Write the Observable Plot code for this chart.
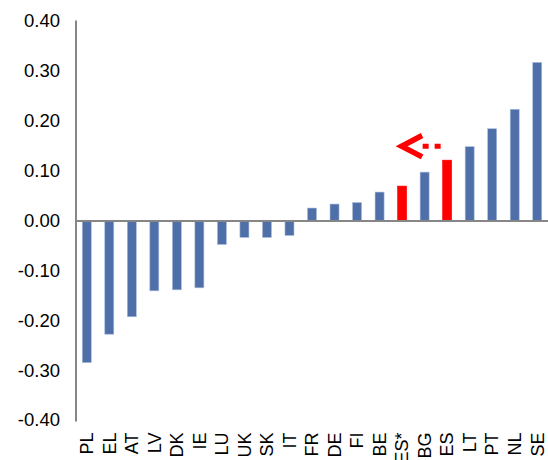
<!DOCTYPE html>
<html><head><meta charset="utf-8">
<script src="https://cdn.jsdelivr.net/npm/d3@7"></script>
<script src="https://cdn.jsdelivr.net/npm/@observablehq/plot@0.6"></script>
<style>html,body{margin:0;padding:0;background:#fff;overflow:hidden}</style>
</head><body><div id="chart"></div>
<script>
const countries = ["PL","EL","AT","LV","DK","IE","LU","UK","SK","IT","FR","DE","FI","BE","ES*","BG","ES","LT","PT","NL","SE"];
const values = [-0.285,-0.228,-0.193,-0.141,-0.139,-0.135,-0.048,-0.034,-0.034,-0.030,0.025,0.033,0.036,0.057,0.069,0.097,0.121,0.148,0.184,0.223,0.317];
const highlighted = ["ES*","ES"];
const yTicks = [-0.4,-0.3,-0.2,-0.1,0,0.1,0.2,0.3,0.4];
const arrowFrom = "ES", arrowTo = "ES*", arrowY = 0.15, headAnchor = "PT";

const data = countries.map((c,i)=>({country:c, value:values[i], color: highlighted.includes(c) ? "#ff0000" : "#4f6fa8", edge: highlighted.includes(c) ? "#ff0000" : "#a9bddc"}));
const arrowData = [{from: arrowFrom, to: arrowTo, y: arrowY, anchor: headAnchor}];

const chart = Plot.plot({
  width:548, height:460, marginLeft:75.5, marginRight:-0.5, marginTop:21, marginBottom:40,
  style:{fontFamily:"'Liberation Sans', Arial, sans-serif", color:"#000", background:"#fff"},
  color:{type:"identity"},
  x:{domain:countries, paddingInner:0.6, paddingOuter:0.3, round:false, axis:null},
  y:{domain:[-0.4,0.4], axis:null},
  marks:[
    Plot.barY(data,{x:"country", y:"value", fill:"color", stroke:"edge", strokeWidth:0.6}),
    Plot.ruleY([0],{stroke:"#868686", strokeWidth:2}),
    Plot.frame({anchor:"left", stroke:"#868686", strokeWidth:2}),
    Plot.axisY(yTicks, {tickSize:0, tickPadding:16, tickFormat:d=>d.toFixed(2), fontSize:18.5, label:null}),
    Plot.axisX({tickSize:0, tickPadding:12, tickRotate:-90, fontSize:18, label:null}),
    Plot.arrow(arrowData, {x1:"from", x2:"to", y:"y", dx:-1, stroke:"#ff0000", strokeWidth:5, headLength:0, insetStart:6, insetEnd:21, strokeDasharray:"6,6", strokeLinecap:"butt"}),
    Plot.arrow(arrowData, {x1:"anchor", x2:"to", y:"y", dx:-1, stroke:"#ff0000", strokeWidth:5.5, headLength:6.3, headAngle:55, insetStart:84, strokeLinejoin:"miter", strokeLinecap:"butt", strokeMiterlimit:10})
  ]
});
document.getElementById("chart").appendChild(chart);
</script>
</body></html>
